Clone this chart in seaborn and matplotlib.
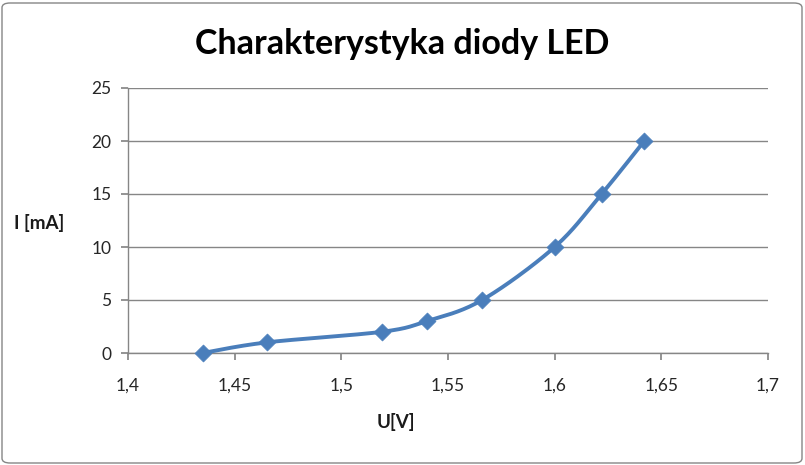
import numpy as np
import matplotlib
matplotlib.use("Agg")
import matplotlib.pyplot as plt
from matplotlib.patches import FancyBboxPatch
import seaborn as sns

U = [1.435, 1.465, 1.519, 1.540, 1.566, 1.600, 1.622, 1.642]
I = [0, 1, 2, 3, 5, 10, 15, 20]
x_ticks = [1.4, 1.45, 1.5, 1.55, 1.6, 1.65, 1.7]
y_ticks = [0, 5, 10, 15, 20, 25]

sns.set_theme(style="white")
plt.rcParams['font.family'] = ['Lato', 'DejaVu Sans']

niebieski = "#4A7EBB"
szary = "#868686"

fig = plt.figure(figsize=(8.05, 4.65), dpi=100)
ax = fig.add_axes([128/805, 1-353/465, 640/805, 265/465])

# wygladzona linia jak w Excelu (Bezier, styczne Catmull-Rom)
def gladka(xs, ys, n=30):
    xs = np.asarray(xs, float); ys = np.asarray(ys, float)
    px, py = [], []
    for i in range(len(xs) - 1):
        x0, y0 = xs[max(i-1, 0)], ys[max(i-1, 0)]
        x1, y1 = xs[i], ys[i]
        x2, y2 = xs[i+1], ys[i+1]
        x3, y3 = xs[min(i+2, len(xs)-1)], ys[min(i+2, len(xs)-1)]
        c1x, c1y = x1 + (x2-x0)/6, y1 + (y2-y0)/6
        c2x, c2y = x2 - (x3-x1)/6, y2 - (y3-y1)/6
        t = np.linspace(0, 1, n)
        bx = (1-t)**3*x1 + 3*(1-t)**2*t*c1x + 3*(1-t)*t**2*c2x + t**3*x2
        by = (1-t)**3*y1 + 3*(1-t)**2*t*c1y + 3*(1-t)*t**2*c2y + t**3*y2
        px.extend(bx); py.extend(by)
    return np.array(px), np.array(py)

sx, sy = gladka(U, I)
ax.plot(sx, sy, color=niebieski, lw=2.8, zorder=3, solid_capstyle='round')
sns.scatterplot(x=U, y=I, ax=ax, marker='D', s=75, color=niebieski,
                edgecolor=niebieski, linewidth=0.5, zorder=4, legend=False,
                clip_on=False)

ax.set_xlim(1.4, 1.7)
ax.set_ylim(0, 25)
ax.set_xticks(x_ticks)
ax.set_yticks(y_ticks)
ax.set_xticklabels([str(v).replace('.', ',') for v in x_ticks])
ax.set_yticklabels([str(v) for v in y_ticks])
ax.yaxis.grid(True, color=szary, lw=1)
ax.xaxis.grid(False)
for s in ['top', 'right']:
    ax.spines[s].set_visible(False)
for s in ['left', 'bottom']:
    ax.spines[s].set_color(szary)
    ax.spines[s].set_linewidth(1)
ax.tick_params(axis='both', which='major', direction='out', length=5,
               color=szary, labelsize=12.5, labelcolor='#262626',
               bottom=True, left=True)
ax.tick_params(axis='x', pad=13)
ax.tick_params(axis='y', pad=7)

fig.text(402/805, 1-44/465, "Charakterystyka diody LED", ha='center', va='center',
         fontsize=24.5, fontweight='bold', color='black')
fig.text(14/805, 1-223/465, "I [mA]", ha='left', va='center',
         fontsize=13.5, fontweight='bold', color='#1a1a1a')
fig.text(396/805, 1-422/465, "U[V]", ha='center', va='center',
         fontsize=13.5, fontweight='bold', color='#1a1a1a')

ramka = FancyBboxPatch((2/805, 2/465), 800/805, 460/465,
                       boxstyle="round,pad=0,rounding_size=0.01",
                       transform=fig.transFigure, fill=False,
                       edgecolor=szary, lw=1)
fig.patches.append(ramka)

fig.savefig("out.png", dpi=100)
